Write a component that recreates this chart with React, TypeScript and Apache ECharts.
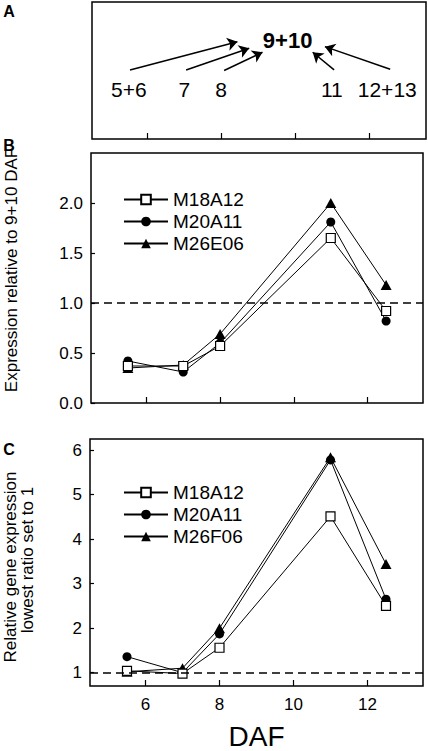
import React, { useEffect, useRef } from "react";
import * as echarts from "echarts";

// ---- data ----
const dafX = [5.5, 7, 8, 11, 12.5];
const xTickValues = [6, 8, 10, 12];

const bNames = ["M18A12", "M20A11", "M26E06"];
const bM18A12 = [0.37, 0.37, 0.57, 1.65, 0.92];
const bM20A11 = [0.42, 0.31, 0.6, 1.81, 0.82];
const bM26E06 = [0.35, 0.38, 0.69, 2.0, 1.18];
const bTicks = [0, 0.5, 1, 1.5, 2];

const cNames = ["M18A12", "M20A11", "M26F06"];
const cM18A12 = [1.04, 0.98, 1.56, 4.51, 2.5];
const cM20A11 = [1.36, 1.0, 1.87, 5.78, 2.65];
const cM26F06 = [1.02, 1.1, 2.0, 5.84, 3.44];
const cTicks = [1, 2, 3, 4, 5, 6];

const referenceLevel = 1;

// panel A annotation
const stageLabels = ["5+6", "7", "8", "11", "12+13"];
const stageX = [5.5, 7, 8, 11, 12.5];
const stageY = 0.36;
const centerLabel = "9+10";
const centerX = 9.8;
const centerY = 0.72;
const arrowFrom = [
  [5.53, 0.504],
  [7.05, 0.504],
  [8.08, 0.5],
  [11.06, 0.504],
  [12.58, 0.509],
];
const arrowTo = [
  [8.44, 0.71],
  [8.76, 0.662],
  [9.12, 0.633],
  [10.48, 0.633],
  [10.81, 0.674],
];

const FONT = "'Liberation Sans', Arial, sans-serif";

const pairs = (ys: number[]) => dafX.map((x, i) => [x, ys[i]]);

const markerStyles: Record<string, any> = {
  square: {
    symbol: "rect",
    symbolSize: 9,
    itemStyle: { color: "#fff", borderColor: "#000", borderWidth: 1.2 },
  },
  circle: {
    symbol: "circle",
    symbolSize: 9,
    itemStyle: { color: "#000", borderColor: "#000", borderWidth: 0 },
  },
  triangle: {
    symbol: "triangle",
    symbolSize: [11, 10],
    itemStyle: { color: "#000", borderColor: "#000", borderWidth: 0 },
  },
};

function lineSeries(name: string, ys: number[], marker: string, idx: number, z: number, withRef: boolean) {
  const s: any = {
    type: "line",
    name,
    xAxisIndex: idx,
    yAxisIndex: idx,
    data: pairs(ys),
    lineStyle: { color: "#000", width: 1 },
    emphasis: { disabled: true },
    z,
    ...markerStyles[marker],
  };
  if (withRef) {
    s.markLine = {
      silent: true,
      symbol: ["none", "none"],
      label: { show: false },
      lineStyle: { color: "#000", width: 1.5, type: [8, 5] },
      data: [{ yAxis: referenceLevel }],
    };
  }
  return s;
}

const textStyle = (text: string, size: number, bold = false) => ({
  text,
  fontSize: size,
  fontWeight: bold ? "bold" : "normal",
  fontFamily: FONT,
  fill: "#000",
  align: "center",
  verticalAlign: "middle",
  textAlign: "center",
  textVerticalAlign: "middle",
});

export default function App() {
  const ref = useRef<HTMLDivElement>(null);
  useEffect(() => {
    document.body.style.margin = "0";
    const chart = echarts.init(ref.current!, null, { renderer: "svg" });

    const gridCommon = { show: true, borderColor: "#000", borderWidth: 1.5, backgroundColor: "transparent" };
    const xCommon = (idx: number, showLabels: boolean) => ({
      type: "value",
      gridIndex: idx,
      min: 4.5,
      max: idx === 0 ? 13.55 : 13.5,
      axisLine: { show: false },
      splitLine: { show: false },
      axisTick: { show: true, inside: true, length: 6, customValues: xTickValues, lineStyle: { color: "#000", width: 1.2 } },
      axisLabel: {
        show: showLabels,
        customValues: xTickValues,
        color: "#000",
        fontSize: 17,
        fontFamily: FONT,
        margin: 10,
      },
    });

    const legendCommon = {
      orient: "vertical",
      left: 123,
      padding: 0,
      itemWidth: 44,
      itemHeight: 12,
      itemGap: 3,
      selectedMode: false,
      textStyle: { color: "#000", fontSize: 19, fontFamily: FONT, lineHeight: 19 },
    };

    const option: any = {
      animation: false,
      grid: [
        { ...gridCommon, left: 92, top: 2, width: 334, height: 137 },
        { ...gridCommon, left: 91, top: 153, width: 332, height: 250 },
        { ...gridCommon, left: 90, top: 439, width: 333, height: 249 },
      ],
      xAxis: [
        xCommon(0, false),
        xCommon(1, false),
        {
          ...xCommon(2, true),
          name: "DAF",
          nameLocation: "middle",
          nameGap: 36,
          nameTextStyle: { color: "#000", fontSize: 28, fontFamily: FONT },
        },
      ],
      yAxis: [
        { type: "value", gridIndex: 0, min: 0, max: 1, show: false },
        {
          type: "value",
          gridIndex: 1,
          min: 0,
          max: 2.5,
          axisLine: { show: false },
          splitLine: { show: false },
          axisTick: { show: true, inside: true, length: 4, customValues: bTicks, lineStyle: { color: "#000", width: 1.2 } },
          axisLabel: {
            customValues: bTicks,
            formatter: (v: number) => v.toFixed(1),
            color: "#000",
            fontSize: 17,
            fontFamily: FONT,
            margin: 8,
          },
        },
        {
          type: "value",
          gridIndex: 2,
          min: 0.7,
          max: 6.25,
          axisLine: { show: false },
          splitLine: { show: false },
          axisTick: { show: true, inside: true, length: 4, customValues: cTicks, lineStyle: { color: "#000", width: 1.2 } },
          axisLabel: {
            customValues: cTicks,
            color: "#000",
            fontSize: 17,
            fontFamily: FONT,
            margin: 8,
          },
        },
      ],
      legend: [
        { ...legendCommon, data: bNames, top: 190 },
        { ...legendCommon, data: cNames, top: 483 },
      ],
      series: [
        {
          type: "lines",
          coordinateSystem: "cartesian2d",
          xAxisIndex: 0,
          yAxisIndex: 0,
          symbol: ["none", "arrow"],
          symbolSize: 10,
          lineStyle: { color: "#000", width: 1.5, opacity: 1, curveness: 0 },
          silent: true,
          data: arrowFrom.map((f, i) => ({ coords: [f, arrowTo[i]] })),
        },
        {
          type: "scatter",
          xAxisIndex: 0,
          yAxisIndex: 0,
          symbolSize: 0,
          itemStyle: { color: "#000", opacity: 1 },
          silent: true,
          label: {
            show: true,
            position: "inside",
            formatter: (p: any) => p.name,
            color: "#000",
            opacity: 1,
            textBorderWidth: 0,
            fontSize: 21,
            fontFamily: FONT,
          },
          data: [
            ...stageX.map((x, i) => ({ name: stageLabels[i], value: [x, stageY] })),
            {
              name: centerLabel,
              value: [centerX, centerY],
              label: { fontWeight: "bold", fontSize: 22 },
            },
          ],
        },
        lineSeries(bNames[1], bM20A11, "circle", 1, 2, false),
        lineSeries(bNames[2], bM26E06, "triangle", 1, 3, false),
        lineSeries(bNames[0], bM18A12, "square", 1, 4, true),
        lineSeries(cNames[1], cM20A11, "circle", 2, 2, false),
        lineSeries(cNames[2], cM26F06, "triangle", 2, 3, false),
        lineSeries(cNames[0], cM18A12, "square", 2, 4, true),
      ],
      graphic: [
        { type: "text", x: 9, y: 11, style: textStyle("A", 16, true) },
        { type: "text", x: 9, y: 145, style: textStyle("B", 16, true) },
        { type: "text", x: 9, y: 449, style: textStyle("C", 16, true) },
        { type: "text", x: 11, y: 270, rotation: Math.PI / 2, style: textStyle("Expression relative to 9+10 DAF", 17) },
        { type: "text", x: 10, y: 567, rotation: Math.PI / 2, style: textStyle("Relative gene expression", 17) },
        { type: "text", x: 27, y: 560, rotation: Math.PI / 2, style: textStyle("lowest ratio set to 1", 17) },
      ],
    };
    chart.setOption(option);
    return () => chart.dispose();
  }, []);
  return <div ref={ref} style={{ width: 428, height: 751, position: "absolute", left: 0, top: 0, background: "#fff" }} />;
}
